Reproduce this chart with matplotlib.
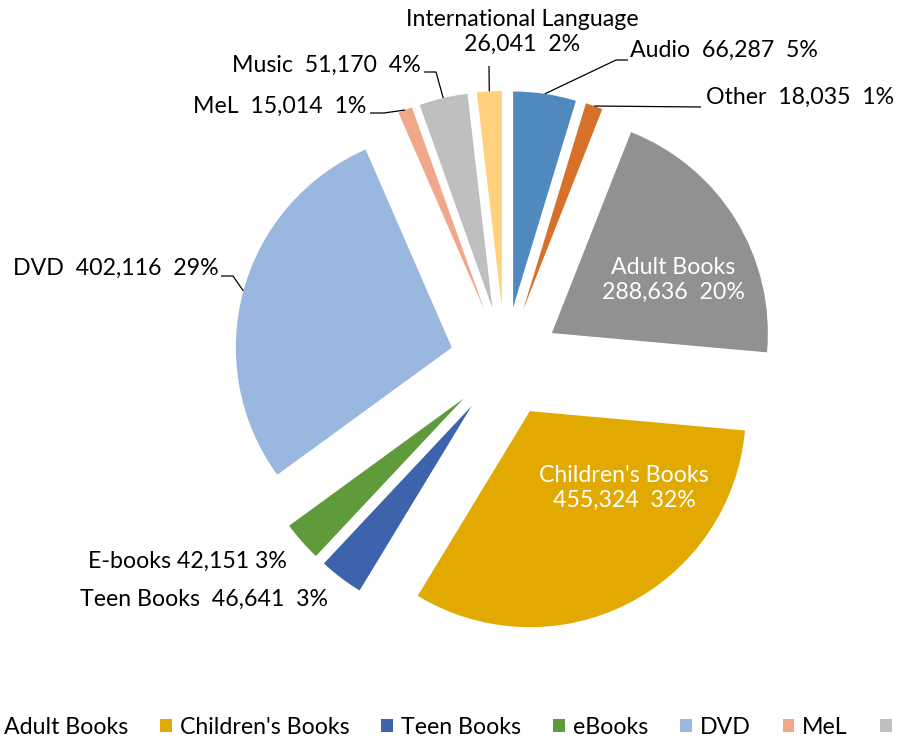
import numpy as np
import matplotlib
matplotlib.use("Agg")
import matplotlib.pyplot as plt
from matplotlib.patches import Patch

plt.rcParams['font.family'] = ['Lato', 'DejaVu Sans']

categories = ["Adult Books", "Children's Books", "Teen Books", "eBooks", "DVD",
              "MeL", "Music", "International Language", "Audio", "Other"]
label_names = ["Adult Books", "Children's Books", "Teen Books", "E-books", "DVD",
               "MeL", "Music", "International Language", "Audio", "Other"]
values = [288636, 455324, 46641, 42151, 402116, 15014, 51170, 26041, 66287, 18035]
colors = ['#919191', '#E2AA00', '#3C63AC', '#5F9A3B', '#9AB8DF',
          '#F1A88A', '#BFBFBF', '#FFD17F', '#4F89BD', '#D77129']

W, H = 902, 743
CX, CY, R = 505, 362, 216  # pie centre / radius in pixels


def P(x, y):
    # pixel position -> data coordinates
    return (x - CX) / R, (CY - y) / R


fig = plt.figure(figsize=(W / 100, H / 100), dpi=100)
ax = fig.add_axes([0, 0, 1, 1])
ax.axis('off')

total = sum(values)
start = 90 - 360 * (values[8] + values[9]) / total
wedges, _ = ax.pie(values, colors=colors, startangle=start, counterclock=False,
                   explode=[0.255] * len(values), radius=1,
                   wedgeprops=dict(linewidth=0))
ax.set_xlim(P(0, 0)[0], P(W, 0)[0])
ax.set_ylim(P(0, H)[1], P(0, 0)[1])
ax.set_aspect('auto')

# percentages rounded so they add up to 100 (like Excel does)
raw = np.array(values) * 100 / total
pcts = np.floor(raw).astype(int)
for k in np.argsort(-(raw - pcts))[:100 - pcts.sum()]:
    pcts[k] += 1

fs = 16.7


def fmt(i, sep="  "):
    return f"{values[i]:,}{sep}{pcts[i]}%"


def arc_mid(w):
    a = np.deg2rad((w.theta1 + w.theta2) / 2)
    return w.center[0] + w.r * np.cos(a), w.center[1] + w.r * np.sin(a)


def leader(i, pts):
    x0, y0 = arc_mid(wedges[i])
    xs = [x0] + [P(*p)[0] for p in pts]
    ys = [y0] + [P(*p)[1] for p in pts]
    ax.plot(xs, ys, color='black', lw=0.9, solid_capstyle='butt')


def label(text, x, y, ha='left', color='black'):
    ax.text(*P(x, y), text, ha=ha, va='center', fontsize=fs, color=color,
            linespacing=1.25)


# inside labels
label(f"{label_names[0]}\n{fmt(0)}", 673, 280, ha='center', color='white')
label(f"{label_names[1]}\n{fmt(1)}", 624, 488, ha='center', color='white')

# outside labels
label(f"{label_names[2]}  {fmt(2)}", 80, 599)
label(f"{label_names[3]} {fmt(3, ' ')}", 88, 561)
label(f"{label_names[4]}  {fmt(4)}", 219, 268, ha='right')
leader(4, [(233, 276), (221, 276)])
label(f"{label_names[5]}  {fmt(5)}", 366, 106, ha='right')
leader(5, [(384, 113), (370, 113)])
label(f"{label_names[6]}  {fmt(6)}", 421, 65, ha='right')
leader(6, [(436, 72), (424, 72)])
label(f"{label_names[7]}\n{fmt(7)}", 522, 32, ha='center')
leader(7, [(489, 66)])
label(f"{label_names[8]}  {fmt(8)}", 630, 50)
leader(8, [(616, 60), (628, 60)])
label(f"{label_names[9]}  {fmt(9)}", 706, 97)
leader(9, [(701, 107)])

handles = [Patch(facecolor=c, edgecolor='none') for c in colors]
fig.legend(handles, categories, loc='center left', ncol=len(categories),
           bbox_to_anchor=(-16 / W, 1 - 727 / H), frameon=False,
           fontsize=fs, handlelength=0.5, handleheight=0.5,
           handletextpad=0.35, columnspacing=1.38, borderpad=0,
           borderaxespad=0)

fig.savefig("out.png", dpi=100)
